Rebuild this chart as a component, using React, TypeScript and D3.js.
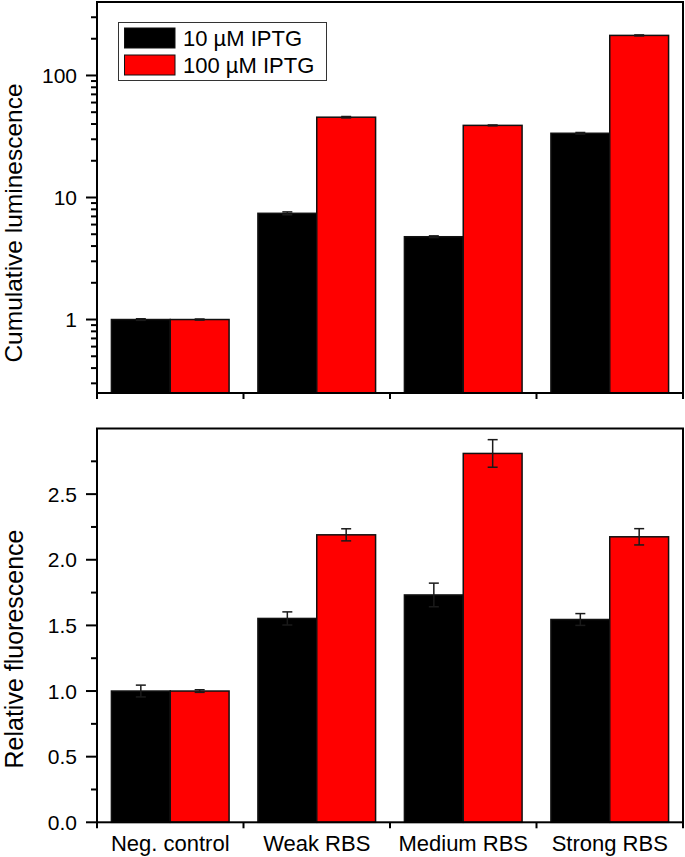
import React from "react";
import * as d3 from "d3";

const categories = ["Neg. control", "Weak RBS", "Medium RBS", "Strong RBS"];
const seriesNames = ["10 µM IPTG", "100 µM IPTG"];
const seriesColors = ["#000000", "#ff0000"];

const lumLow = [1.0, 7.42, 4.77, 33.6];
const lumLowErr = [0.015, 0.2, 0.08, 0.5];
const lumHigh = [1.0, 45.5, 39.0, 213];
const lumHighErr = [0.01, 0.6, 0.3, 2];

const fluLow = [1.0, 1.553, 1.732, 1.545];
const fluLowErr = [0.045, 0.05, 0.09, 0.045];
const fluHigh = [1.0, 2.19, 2.81, 2.175];
const fluHighErr = [0.01, 0.046, 0.105, 0.062];

const logMajor = [1, 10, 100];
const linMajor = [0.0, 0.5, 1.0, 1.5, 2.0, 2.5];

const W = 685;
const H = 857;
const left = 97;
const right = 683;
const top1 = 2;
const bot1 = 393;
const top2 = 428.5;
const bot2 = 822.3;

const FONT = "'Liberation Sans', Arial, sans-serif";

const xBand = d3.scaleBand<string>().domain(categories).range([left, right]).padding(0);
const xSeries = d3.scaleBand<number>().domain([0, 1]).range([0, xBand.bandwidth()]).paddingInner(0).paddingOuter(0.245);

const yLog = d3.scaleLog().domain([0.25, 400]).range([bot1, top1]);
const yLin = d3.scaleLinear().domain([0, 3]).range([bot2, top2]);

const logMinor = yLog.ticks().filter((t) => !logMajor.includes(t) && t < 350 && t > 0.25);
const linMinor = d3.range(0.25, 3, 0.5);

function ErrorBar({ cx, y1, y2 }: { cx: number; y1: number; y2: number }) {
  const cw = 5;
  return (
    <g stroke="#1a1a1a" strokeWidth={1.5} fill="none">
      <line x1={cx} x2={cx} y1={y1} y2={y2} />
      <line x1={cx - cw} x2={cx + cw} y1={y1} y2={y1} />
      <line x1={cx - cw} x2={cx + cw} y1={y2} y2={y2} />
    </g>
  );
}

function Bars({ series, errs, y, base }: { series: number[][]; errs: number[][]; y: (v: number) => number; base: number }) {
  return (
    <g>
      {categories.map((c, ci) => (
        <g key={c}>
          {series.map((vals, si) => {
            const x0 = (xBand(c) as number) + (xSeries(si) as number);
            const w = xSeries.bandwidth();
            const v = vals[ci];
            const yt = y(v);
            return (
              <g key={si}>
                <rect x={x0} y={yt} width={w} height={base - yt} fill={seriesColors[si]} stroke="#111" strokeWidth={1.5} />
                <ErrorBar cx={x0 + w / 2} y1={y(v + errs[si][ci])} y2={y(v - errs[si][ci])} />
              </g>
            );
          })}
        </g>
      ))}
    </g>
  );
}

function Frame({ t, b }: { t: number; b: number }) {
  const bounds = [left, ...categories.map((c) => (xBand(c) as number) + xBand.bandwidth())];
  return (
    <g stroke="#000" strokeWidth={2} fill="none">
      <rect x={left} y={t} width={right - left} height={b - t} />
      {bounds.map((bx, i) => (
        <line key={i} x1={bx} x2={bx} y1={b} y2={b + 6} />
      ))}
    </g>
  );
}

export default function App() {
  return (
    <svg width={W} height={H} style={{ position: "absolute", left: 0, top: 0, background: "#fff" }} fontFamily={FONT}>
      <rect x={0} y={0} width={W} height={H} fill="#fff" />
      {/* Top panel */}
      <Bars series={[lumLow, lumHigh]} errs={[lumLowErr, lumHighErr]} y={(v) => yLog(v)} base={bot1} />
      <Frame t={top1} b={bot1} />
      <g stroke="#000" strokeWidth={2}>
        {logMajor.map((t) => (
          <line key={t} x1={left - 11} x2={left} y1={yLog(t)} y2={yLog(t)} />
        ))}
        {logMinor.map((t) => (
          <line key={t} x1={left - 6} x2={left} y1={yLog(t)} y2={yLog(t)} />
        ))}
      </g>
      {logMajor.map((t) => (
        <text key={t} x={77} y={yLog(t)} dy="0.36em" textAnchor="end" fontSize={21} fill="#000">
          {d3.format("d")(t)}
        </text>
      ))}
      <text transform={`translate(21.5,223) rotate(-90)`} textAnchor="middle" fontSize={24.5} fill="#000">
        Cumulative luminescence
      </text>
      {/* Legend */}
      <rect x={118.5} y={22.5} width={208} height={58} fill="#fff" stroke="#333" strokeWidth={1} />
      {seriesNames.map((s, i) => (
        <g key={s}>
          <rect x={124.5} y={28 + i * 27} width={50.5} height={20} fill={seriesColors[i]} stroke="#111" strokeWidth={1} />
          <text x={183} y={45.5 + i * 27.3} fontSize={22} fill="#000">
            {s}
          </text>
        </g>
      ))}

      {/* Bottom panel */}
      <Bars series={[fluLow, fluHigh]} errs={[fluLowErr, fluHighErr]} y={(v) => yLin(v)} base={bot2} />
      <Frame t={top2} b={bot2} />
      <g stroke="#000" strokeWidth={2}>
        {linMajor.map((t) => (
          <line key={t} x1={left - 11} x2={left} y1={yLin(t)} y2={yLin(t)} />
        ))}
        {linMinor.map((t) => (
          <line key={t} x1={left - 6} x2={left} y1={yLin(t)} y2={yLin(t)} />
        ))}
      </g>
      {linMajor.map((t) => (
        <text key={t} x={77} y={yLin(t)} dy="0.36em" textAnchor="end" fontSize={21} fill="#000">
          {d3.format(".1f")(t)}
        </text>
      ))}
      <text transform={`translate(23,649) rotate(-90)`} textAnchor="middle" fontSize={25} fill="#000">
        Relative fluorescence
      </text>
      {categories.map((c) => (
        <text key={c} x={(xBand(c) as number) + xBand.bandwidth() / 2} y={851} textAnchor="middle" fontSize={22} fill="#000">
          {c}
        </text>
      ))}
    </svg>
  );
}
